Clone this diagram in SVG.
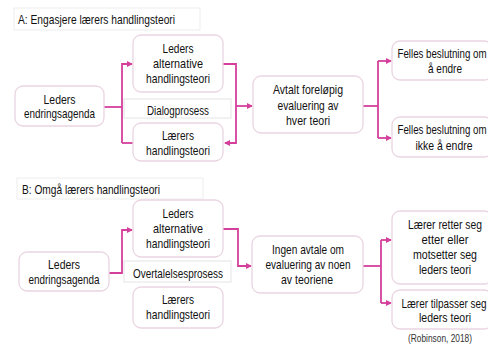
<svg xmlns="http://www.w3.org/2000/svg" width="488" height="345" viewBox="0 0 488 345">
  <defs>
    <marker id="arrow" markerWidth="6" markerHeight="6" refX="5" refY="3" orient="auto" markerUnits="userSpaceOnUse">
      <path d="M0,0 L6,3 L0,6 Z" fill="#d43f9c"/>
    </marker>
    <style>
      text { font-family: "Liberation Sans Narrow", "Arial Narrow", "Liberation Sans", Arial, sans-serif; font-size: 13.5px; fill: #111111; }
      .c { text-anchor: middle; }
      .node { fill: #ffffff; stroke: #ead5e1; stroke-width: 1.3; }
      .label { fill: #ffffff; stroke: #e4e4e4; stroke-width: 1; }
      .title { fill: #ffffff; stroke: #ededed; stroke-width: 1; }
      .wire { fill: none; stroke: #d43f9c; stroke-width: 1.8; }
      .cite { font-size: 10px; fill: #333333; }
    </style>
  </defs>
  <rect width="488" height="345" fill="#ffffff"/>

  <!-- Panel A: engaging the teacher's theory of action -->
  <g id="titleA">
    <rect class="title" x="14" y="8" width="186" height="22"/>
    <text x="18" y="23.5" textLength="157" lengthAdjust="spacingAndGlyphs">A: Engasjere lærers handlingsteori</text>
  </g>

  <g id="connectorsA">
    <path class="wire" d="M104,107 H122"/>
    <path class="wire" d="M122,143 V64 H132" marker-end="url(#arrow)"/>
    <path class="wire" d="M122,143 H133"/>
    <path class="wire" d="M223,64 H236 V143 H225" marker-end="url(#arrow)"/>
    <path class="wire" d="M236,106 H252" marker-end="url(#arrow)"/>
    <path class="wire" d="M363,106 H378"/>
    <path class="wire" d="M378,61 V138"/>
    <path class="wire" d="M378,61 H391" marker-end="url(#arrow)"/>
    <path class="wire" d="M378,138 H391" marker-end="url(#arrow)"/>
  </g>

  <g id="agendaA">
    <rect class="node" x="15" y="86" width="89" height="40" rx="8"/>
    <text class="c" x="59.5" y="103.5" textLength="32" lengthAdjust="spacingAndGlyphs">Leders</text>
    <text class="c" x="59.5" y="118" textLength="71" lengthAdjust="spacingAndGlyphs">endringsagenda</text>
  </g>
  <g id="alternativeA">
    <rect class="node" x="133" y="35" width="90" height="57" rx="8"/>
    <text class="c" x="178" y="52.5" textLength="31" lengthAdjust="spacingAndGlyphs">Leders</text>
    <text class="c" x="178" y="67.5" textLength="50" lengthAdjust="spacingAndGlyphs">alternative</text>
    <text class="c" x="178" y="82.5" textLength="64" lengthAdjust="spacingAndGlyphs">handlingsteori</text>
  </g>
  <g id="dialogA">
    <rect class="label" x="124" y="99" width="107" height="19"/>
    <text class="c" x="178" y="114.5" textLength="62" lengthAdjust="spacingAndGlyphs">Dialogprosess</text>
  </g>
  <g id="teacherA">
    <rect class="node" x="133" y="123" width="90" height="38" rx="8"/>
    <text class="c" x="178" y="139.5" textLength="32" lengthAdjust="spacingAndGlyphs">Lærers</text>
    <text class="c" x="178" y="154.5" textLength="64" lengthAdjust="spacingAndGlyphs">handlingsteori</text>
  </g>
  <g id="evaluationA">
    <rect class="node" x="253" y="76" width="110" height="57" rx="8"/>
    <text class="c" x="308" y="94" textLength="70" lengthAdjust="spacingAndGlyphs">Avtalt foreløpig</text>
    <text class="c" x="308" y="109.5" textLength="61" lengthAdjust="spacingAndGlyphs">evaluering av</text>
    <text class="c" x="308" y="124.5" textLength="44" lengthAdjust="spacingAndGlyphs">hver teori</text>
  </g>
  <g id="changeA">
    <rect class="node" x="392" y="41" width="100" height="39" rx="8"/>
    <text class="c" x="442" y="57.5" textLength="89" lengthAdjust="spacingAndGlyphs">Felles beslutning om</text>
    <text class="c" x="445" y="73" textLength="34" lengthAdjust="spacingAndGlyphs">å endre</text>
  </g>
  <g id="noChangeA">
    <rect class="node" x="392" y="117" width="100" height="40" rx="8"/>
    <text class="c" x="442" y="134" textLength="89" lengthAdjust="spacingAndGlyphs">Felles beslutning om</text>
    <text class="c" x="444" y="149.5" textLength="57" lengthAdjust="spacingAndGlyphs">ikke å endre</text>
  </g>

  <!-- Panel B: bypassing the teacher's theory of action -->
  <g id="titleB">
    <rect class="title" x="17" y="178" width="186" height="21"/>
    <text x="22" y="193.5" textLength="138" lengthAdjust="spacingAndGlyphs">B: Omgå lærers handlingsteori</text>
  </g>

  <g id="connectorsB">
    <path class="wire" d="M109,273 H122 V230 H132" marker-end="url(#arrow)"/>
    <path class="wire" d="M223,229 H238 V266 H251" marker-end="url(#arrow)"/>
    <path class="wire" d="M363,266 H381"/>
    <path class="wire" d="M381,240 V303"/>
    <path class="wire" d="M381,240 H391" marker-end="url(#arrow)"/>
    <path class="wire" d="M381,303 H391" marker-end="url(#arrow)"/>
  </g>

  <g id="agendaB">
    <rect class="node" x="19" y="252" width="90" height="39" rx="8"/>
    <text class="c" x="64" y="268.5" textLength="32" lengthAdjust="spacingAndGlyphs">Leders</text>
    <text class="c" x="64" y="283.5" textLength="71" lengthAdjust="spacingAndGlyphs">endringsagenda</text>
  </g>
  <g id="alternativeB">
    <rect class="node" x="133" y="200" width="90" height="57" rx="8"/>
    <text class="c" x="178" y="217.5" textLength="31" lengthAdjust="spacingAndGlyphs">Leders</text>
    <text class="c" x="178" y="232.5" textLength="50" lengthAdjust="spacingAndGlyphs">alternative</text>
    <text class="c" x="178" y="247.5" textLength="64" lengthAdjust="spacingAndGlyphs">handlingsteori</text>
  </g>
  <g id="persuasionB">
    <rect class="label" x="124" y="261" width="107" height="21"/>
    <text class="c" x="178" y="277.5" textLength="90" lengthAdjust="spacingAndGlyphs">Overtalelsesprosess</text>
  </g>
  <g id="teacherB">
    <rect class="node" x="133" y="287" width="90" height="41" rx="8"/>
    <text class="c" x="178" y="303.5" textLength="32" lengthAdjust="spacingAndGlyphs">Lærers</text>
    <text class="c" x="178" y="319" textLength="64" lengthAdjust="spacingAndGlyphs">handlingsteori</text>
  </g>
  <g id="evaluationB">
    <rect class="node" x="252" y="236" width="111" height="57" rx="8"/>
    <text class="c" x="308" y="253.5" textLength="72" lengthAdjust="spacingAndGlyphs">Ingen avtale om</text>
    <text class="c" x="308" y="268.5" textLength="85" lengthAdjust="spacingAndGlyphs">evaluering av noen</text>
    <text class="c" x="307" y="283.5" textLength="52" lengthAdjust="spacingAndGlyphs">av teoriene</text>
  </g>
  <g id="complyB">
    <rect class="node" x="392" y="211" width="100" height="73" rx="8"/>
    <text class="c" x="445" y="228.5" textLength="74" lengthAdjust="spacingAndGlyphs">Lærer retter seg</text>
    <text class="c" x="445" y="243.5" textLength="47" lengthAdjust="spacingAndGlyphs">etter eller</text>
    <text class="c" x="445" y="259" textLength="64" lengthAdjust="spacingAndGlyphs">motsetter seg</text>
    <text class="c" x="445" y="273.5" textLength="52" lengthAdjust="spacingAndGlyphs">leders teori</text>
  </g>
  <g id="adaptB">
    <rect class="node" x="392" y="290" width="100" height="39" rx="8"/>
    <text class="c" x="444" y="307.5" textLength="85" lengthAdjust="spacingAndGlyphs">Lærer tilpasser seg</text>
    <text class="c" x="445" y="322" textLength="52" lengthAdjust="spacingAndGlyphs">leders teori</text>
  </g>

  <text class="cite" x="408" y="342" textLength="64" lengthAdjust="spacingAndGlyphs">(Robinson, 2018)</text>
</svg>
